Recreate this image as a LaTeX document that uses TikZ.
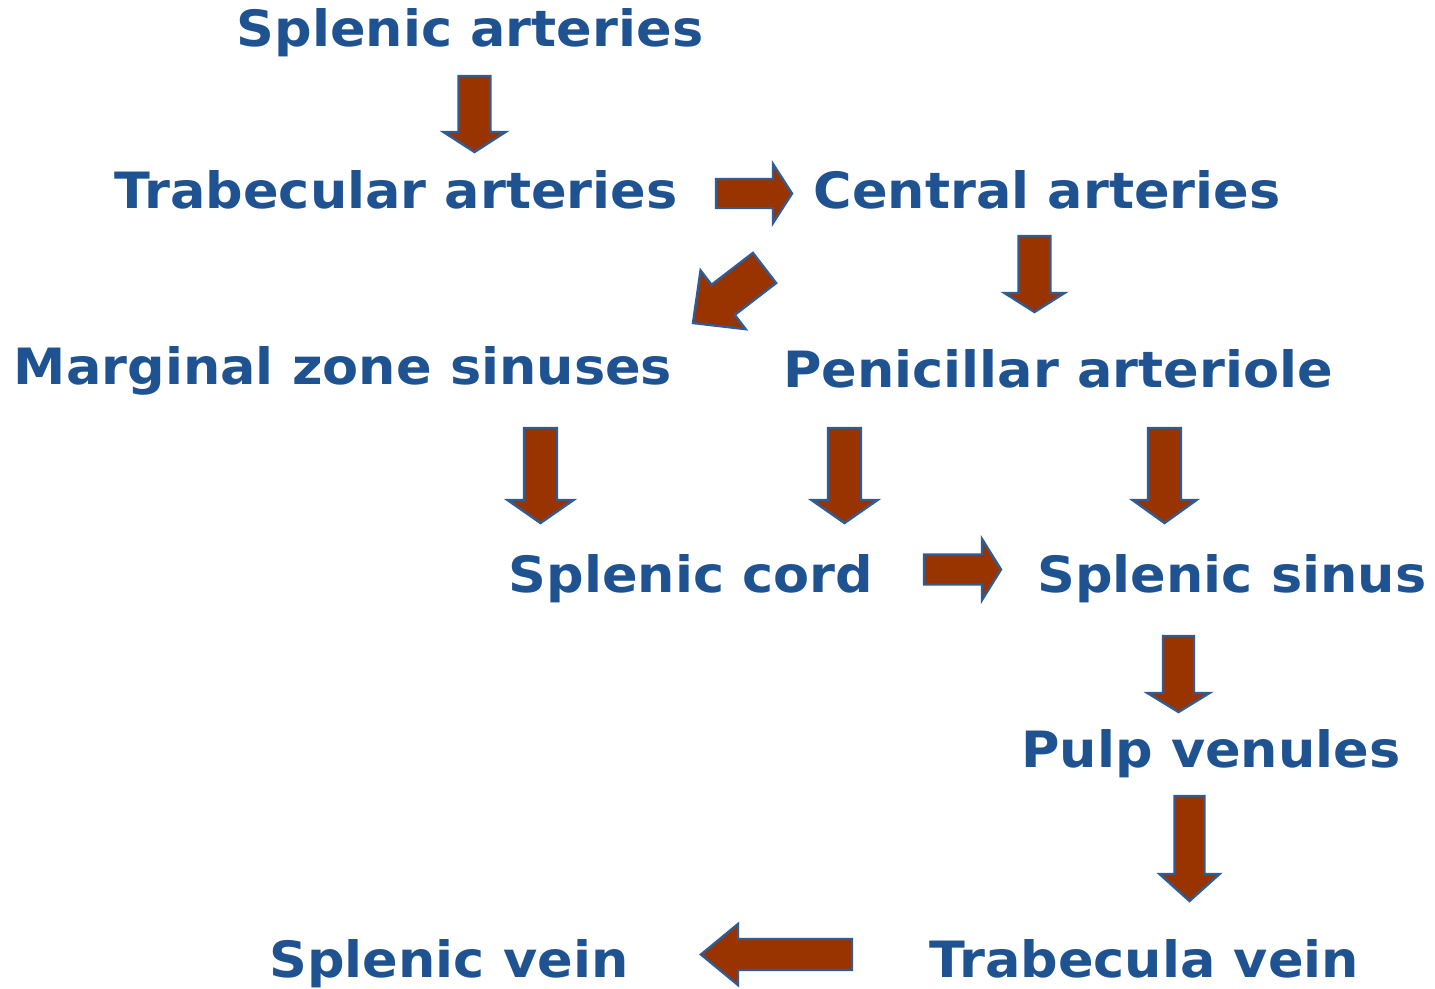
\documentclass[tikz,border=0pt]{standalone}
\usepackage{fontspec}
\newfontfamily\lblfont{DejaVu Sans}[FakeStretch=1.05]
\usetikzlibrary{calc}
\definecolor{flowblue}{HTML}{1F5290}
\definecolor{flowbrown}{HTML}{993300}
\definecolor{edgeblue}{HTML}{2F5C94}

% block arrow: tail, tip, shaft half width, head half width, head length
\newcommand{\blockarrow}[5]{%
  \coordinate (hb) at ($(#2)!#5!(#1)$);
  \draw[blk] ($(#1)!#3!90:(#2)$) -- ($(hb)!#3!90:(#2)$) -- ($(hb)!#4!90:(#2)$) -- (#2)
    -- ($(hb)!#4!-90:(#2)$) -- ($(hb)!#3!-90:(#2)$) -- ($(#1)!#3!-90:(#2)$) -- cycle;}

\begin{document}
\begin{tikzpicture}[
  x=1pt, y=-1pt,
  lbl/.style={font=\lblfont\bfseries\fontsize{50}{58}\selectfont, text=flowblue,
              inner sep=0pt, anchor=base},
  blk/.style={fill=flowbrown, draw=edgeblue, line width=2.4pt}
]
  \useasboundingbox (0,0) rectangle (1435,988);
  % labels
  \node[lbl] (sart) at (470,46)   {Splenic arteries};
  \node[lbl] (tart) at (396,208)  {Trabecular arteries};
  \node[lbl] (cart) at (1047,208) {Central arteries};
  \node[lbl] (mzs)  at (343,384)  {Marginal zone sinuses};
  \node[lbl] (pen)  at (1058,387) {Penicillar arteriole};
  \node[lbl] (cord) at (691,592)  {Splenic cord};
  \node[lbl] (sin)  at (1232,592) {Splenic sinus};
  \node[lbl] (pulp) at (1211,767) {Pulp venules};
  \node[lbl] (svn)  at (449,977)  {Splenic vein};
  \node[lbl] (tvn)  at (1144,977) {Trabecula vein};
  % arrow ends
  \coordinate (a1t) at (474.5,76);   \coordinate (a1h) at (474.5,152);
  \coordinate (a2t) at (716,193.5);  \coordinate (a2h) at (792,193.5);
  \coordinate (a3t) at (764.5,268);  \coordinate (a3h) at (693,323);
  \coordinate (a4t) at (1034.5,236); \coordinate (a4h) at (1034.5,312);
  \coordinate (a5t) at (540.5,428);  \coordinate (a5h) at (540.5,523);
  \coordinate (a6t) at (844.5,428);  \coordinate (a6h) at (844.5,523);
  \coordinate (a7t) at (1164.5,428); \coordinate (a7h) at (1164.5,523);
  \coordinate (a8t) at (924,569.5);  \coordinate (a8h) at (1001,569.5);
  \coordinate (a9t) at (1178.5,636); \coordinate (a9h) at (1178.5,712);
  \coordinate (a10t) at (1189.5,796); \coordinate (a10h) at (1189.5,901);
  \coordinate (a11t) at (852,954.5); \coordinate (a11h) at (701,954.5);
  % arrows
  \blockarrow{a1t}{a1h}{16pt}{31pt}{20pt}
  \blockarrow{a2t}{a2h}{14.5pt}{29.5pt}{19pt}
  \blockarrow{a3t}{a3h}{19pt}{37pt}{38pt}
  \blockarrow{a4t}{a4h}{16pt}{30pt}{19pt}
  \blockarrow{a5t}{a5h}{16.5pt}{33pt}{23pt}
  \blockarrow{a6t}{a6h}{16.5pt}{33pt}{23pt}
  \blockarrow{a7t}{a7h}{16.5pt}{32pt}{23pt}
  \blockarrow{a8t}{a8h}{15pt}{30.5pt}{19pt}
  \blockarrow{a9t}{a9h}{15.5pt}{31pt}{19pt}
  \blockarrow{a10t}{a10h}{15pt}{30pt}{27pt}
  \blockarrow{a11t}{a11h}{15.5pt}{30.5pt}{37pt}
\end{tikzpicture}
\end{document}
